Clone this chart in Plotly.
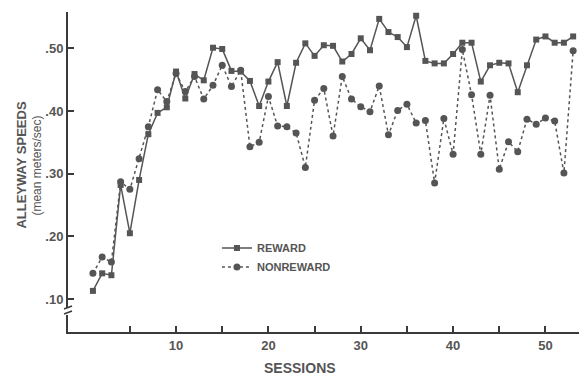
import plotly.graph_objects as go

sessions = list(range(1, 54))
reward = [0.113, 0.141, 0.138, 0.282, 0.205, 0.290, 0.363, 0.397, 0.406, 0.463,
          0.420, 0.459, 0.449, 0.501, 0.499, 0.464, 0.463, 0.448, 0.408, 0.447,
          0.478, 0.408, 0.477, 0.508, 0.488, 0.505, 0.504, 0.479, 0.491, 0.516,
          0.497, 0.547, 0.526, 0.518, 0.502, 0.552, 0.480, 0.476, 0.476, 0.491,
          0.509, 0.509, 0.447, 0.473, 0.477, 0.476, 0.430, 0.473, 0.514, 0.519,
          0.509, 0.509, 0.519]
nonreward = [0.141, 0.167, 0.159, 0.287, 0.275, 0.324, 0.375, 0.434, 0.415, 0.460,
             0.431, 0.455, 0.419, 0.441, 0.473, 0.439, 0.465, 0.343, 0.350, 0.423,
             0.376, 0.375, 0.365, 0.310, 0.417, 0.436, 0.360, 0.455, 0.419, 0.407,
             0.399, 0.440, 0.362, 0.401, 0.411, 0.381, 0.385, 0.285, 0.388, 0.331,
             0.498, 0.426, 0.331, 0.425, 0.307, 0.351, 0.335, 0.387, 0.379, 0.389,
             0.384, 0.301, 0.496]

x_tickvals = [5, 10, 15, 20, 25, 30, 35, 40, 45, 50]
x_ticktext = ["", "10", "", "20", "", "30", "", "40", "", "50"]
y_tickvals = [0.10, 0.20, 0.30, 0.40, 0.50]
y_ticktext = [".10", ".20", ".30", ".40", ".50"]

INK = "#555555"
AX = "#3a3a3a"
FONT = "Liberation Sans"

fig = go.Figure()
fig.add_trace(go.Scatter(
    x=sessions, y=reward, name="REWARD", mode="lines+markers",
    line=dict(color=INK, width=1.5, dash="solid"),
    marker=dict(symbol="square", size=6, color=INK), cliponaxis=False))
fig.add_trace(go.Scatter(
    x=sessions, y=nonreward, name="NONREWARD", mode="lines+markers",
    line=dict(color=INK, width=1.5, dash="dot"),
    marker=dict(symbol="circle", size=7, color=INK), cliponaxis=False))

# page body has an 8px default margin: figure is sized/placed to compensate
fig.update_layout(
    width=579, height=368,
    margin=dict(l=60, r=0, t=4, b=44, autoexpand=False),
    paper_bgcolor="white", plot_bgcolor="white",
    font=dict(family=FONT, color=INK),
    showlegend=True,
    legend=dict(x=0.287, y=0.308, xanchor="left", yanchor="top",
                bgcolor="rgba(0,0,0,0)", font=dict(size=11, color=INK, weight="bold"),
                tracegroupgap=0, itemwidth=30),
    xaxis=dict(range=[-1.7, 54.5], tickvals=x_tickvals, ticktext=x_ticktext,
               ticks="inside", ticklen=6, tickwidth=1.5, tickcolor=AX,
               showline=True, linecolor=AX, linewidth=2, showgrid=False,
               zeroline=False, automargin=False,
               tickfont=dict(size=13, color=INK, weight="bold")),
    yaxis=dict(range=[0.0474, 0.558], tickvals=y_tickvals, ticktext=y_ticktext,
               ticks="inside", ticklen=6, tickwidth=1.5, tickcolor=AX,
               showline=True, linecolor=AX, linewidth=2, showgrid=False,
               zeroline=False, ticklabelstandoff=0, automargin=False,
               tickfont=dict(size=13, color=INK, weight="bold")),
)

# x-axis title
fig.add_annotation(xref="paper", yref="paper", x=(300 - 68) / 519.0, y=(332 - 368) / 320.0,
                   text="SESSIONS", showarrow=False, xanchor="center", yanchor="middle",
                   font=dict(size=14, color=INK, weight="bold"))

# y-axis title (two lines)
fig.add_annotation(xref="paper", yref="paper", x=(22 - 68) / 519.0, y=0.52,
                   text="ALLEYWAY SPEEDS", textangle=-90, showarrow=False,
                   font=dict(size=13, color=INK, weight="bold"), xanchor="center")
fig.add_annotation(xref="paper", yref="paper", x=(37 - 68) / 519.0, y=0.52,
                   text="(mean meters/sec)", textangle=-90, showarrow=False,
                   font=dict(size=12, color=INK), xanchor="center")

# axis break marks
px = 1 / 519.0
py = 1 / 320.0
fig.add_shape(type="rect", xref="paper", yref="paper",
              x0=-3 * px, x1=3 * px, y0=(332 - 315) * py, y1=(332 - 308) * py,
              fillcolor="white", line=dict(width=0), layer="above")
for yy in (308, 313):
    fig.add_shape(type="line", xref="paper", yref="paper",
                  x0=-4 * px, x1=4 * px, y0=(332 - yy - 1) * py, y1=(332 - yy + 2) * py,
                  line=dict(color=AX, width=1.5), layer="above")

fig.write_html("out.html")
